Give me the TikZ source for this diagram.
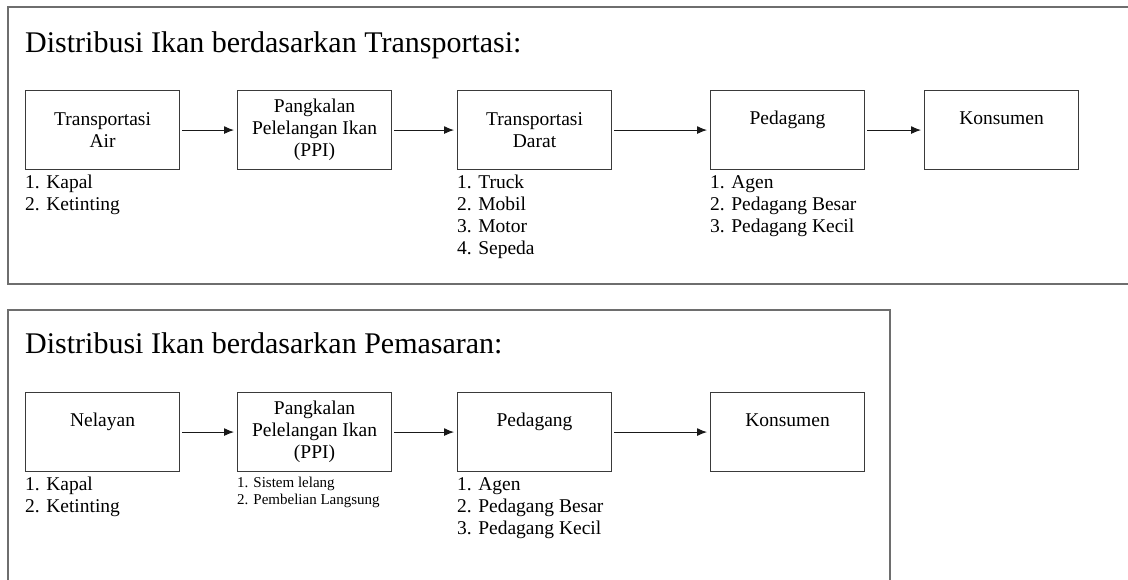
\documentclass[tikz,border=0pt]{standalone}
\usepackage{fontspec}
\setmainfont{Liberation Serif}
\usetikzlibrary{arrows.meta}
\definecolor{frameGray}{HTML}{6e6e6e}
\definecolor{boxGray}{HTML}{3a3a3a}

\begin{document}
\begin{tikzpicture}[x=1pt, y=-1pt, >={Latex[length=10pt,width=8pt]}, shorten >=3pt, shorten <=2pt]

  \tikzstyle{F}=[draw=frameGray, line width=1.4pt]
  \tikzstyle{S}=[rectangle, draw=boxGray, line width=1.1pt, minimum width=154pt, minimum height=79pt, anchor=north west, align=center, inner sep=2pt, font=\fontsize{19.5}{22}\selectfont]
  \tikzstyle{S1}=[S, text depth=24pt]
  \tikzstyle{L}=[anchor=north west, align=left, inner sep=0pt, font=\fontsize{19.5}{22}\selectfont]
  \tikzstyle{Ls}=[L, font=\fontsize{15}{17}\selectfont]
  \tikzstyle{T}=[anchor=base west, inner sep=0pt, font=\fontsize{30}{36}\selectfont]
  \tikzstyle{A}=[->, line width=1pt, draw=black!90]

  \clip (0,0) rectangle (1128,579);
  \fill[white] (0,0) rectangle (1128,579);

  % frames
  \draw[F] (8,7) rectangle (1140,284);
  \draw[F] (8,310) rectangle (890,600);

  % berdasarkan Transportasi
  \node[T] at (25,52) (titleT) {Distribusi Ikan berdasarkan Transportasi:};

  \node[S] at (25,90) (air) {Transportasi\\Air};
  \node[S] at (237,90) (ppi) {Pangkalan\\Pelelangan Ikan\\(PPI)};
  \node[S] at (457,90) (darat) {Transportasi\\Darat};
  \node[S1] at (710,90) (pedagang) {Pedagang};
  \node[S1] at (924,90) (konsumen) {Konsumen};

  \node[L] at ([yshift=-5pt]air.south west) (airList) {1. Kapal\\2. Ketinting};
  \node[L] at ([yshift=-5pt]darat.south west) (daratList) {1. Truck\\2. Mobil\\3. Motor\\4. Sepeda};
  \node[L] at ([yshift=-5pt]pedagang.south west) (pedagangList) {1. Agen\\2. Pedagang Besar\\3. Pedagang Kecil};

  \draw [A] (air.east) to (ppi.west);
  \draw [A] (ppi.east) to (darat.west);
  \draw [A] (darat.east) to (pedagang.west);
  \draw [A] (pedagang.east) to (konsumen.west);

  % berdasarkan Pemasaran
  \node[T] at (25,353) (titleP) {Distribusi Ikan berdasarkan Pemasaran:};

  \node[S1] at (25,392) (nelayan) {Nelayan};
  \node[S] at (237,392) (ppiP) {Pangkalan\\Pelelangan Ikan\\(PPI)};
  \node[S1] at (457,392) (pedagangP) {Pedagang};
  \node[S1] at (710,392) (konsumenP) {Konsumen};

  \node[L] at ([yshift=-5pt]nelayan.south west) (nelayanList) {1. Kapal\\2. Ketinting};
  \node[Ls] at ([yshift=-5pt]ppiP.south west) (ppiList) {1. Sistem lelang\\2. Pembelian Langsung};
  \node[L] at ([yshift=-5pt]pedagangP.south west) (pedagangPList) {1. Agen\\2. Pedagang Besar\\3. Pedagang Kecil};

  \draw [A] (nelayan.east) to (ppiP.west);
  \draw [A] (ppiP.east) to (pedagangP.west);
  \draw [A] (pedagangP.east) to (konsumenP.west);

\end{tikzpicture}
\end{document}
